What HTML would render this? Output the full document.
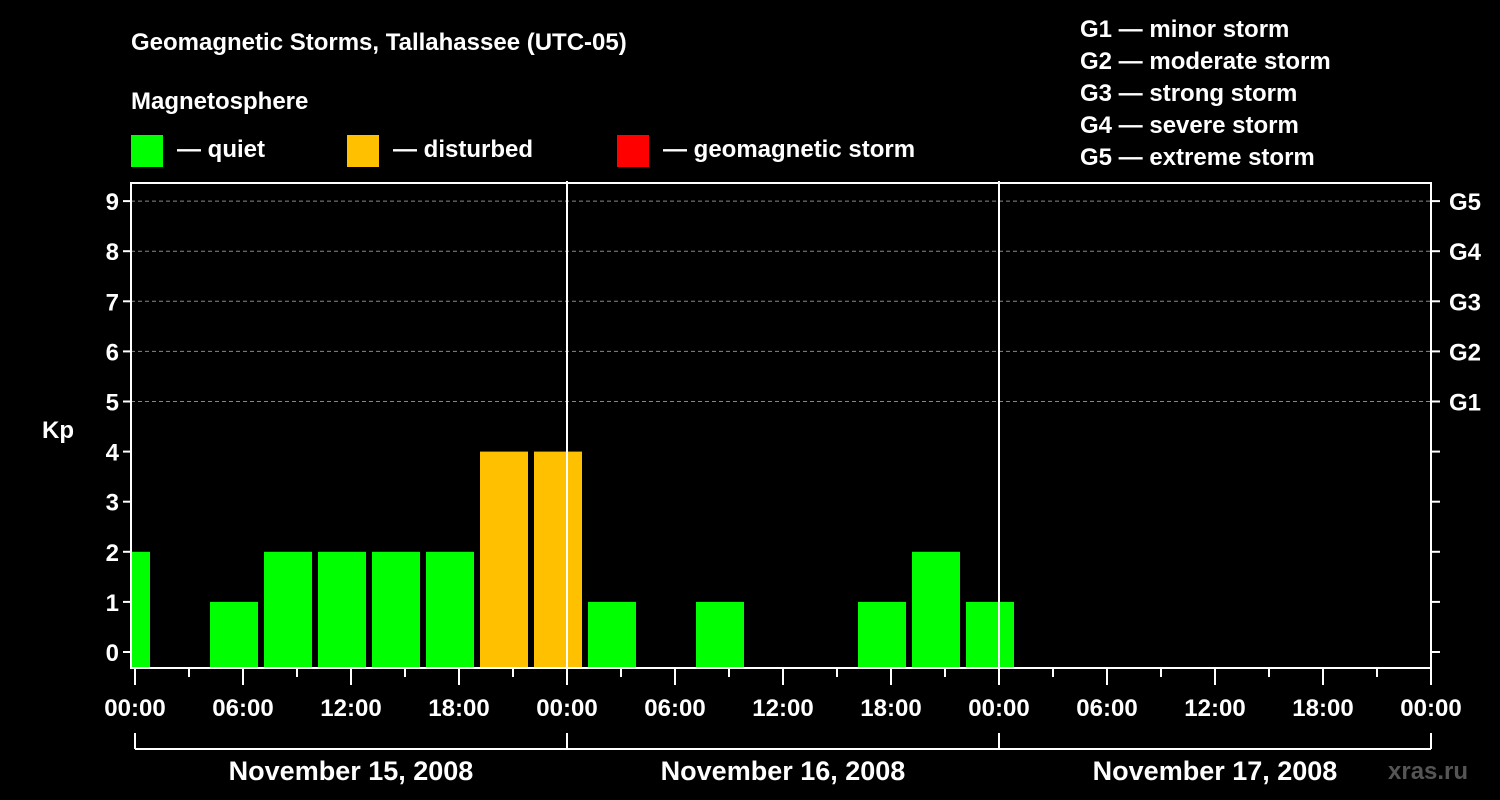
<!DOCTYPE html>
<html><head><meta charset="utf-8"><style>
html,body{margin:0;padding:0;background:#000;}
svg{display:block;font-family:"Liberation Sans",sans-serif;font-weight:bold;}
</style></head><body>
<svg width="1500" height="800" viewBox="0 0 1500 800">
<text x="131" y="50" fill="#fff" font-size="24">Geomagnetic Storms, Tallahassee (UTC-05)</text>
<text x="131" y="109" fill="#fff" font-size="24">Magnetosphere</text>
<g><rect x="131" y="135" width="32" height="32" fill="#00ff00"/><text x="177" y="157" fill="#fff" font-size="24">— quiet</text></g>
<g><rect x="347" y="135" width="32" height="32" fill="#ffc000"/><text x="393" y="157" fill="#fff" font-size="24">— disturbed</text></g>
<g><rect x="617" y="135" width="32" height="32" fill="#ff0000"/><text x="663" y="157" fill="#fff" font-size="24">— geomagnetic storm</text></g>
<g fill="#fff" font-size="24">
<text x="1080" y="37">G1 — minor storm</text><text x="1080" y="69">G2 — moderate storm</text><text x="1080" y="101">G3 — strong storm</text><text x="1080" y="133">G4 — severe storm</text><text x="1080" y="165">G5 — extreme storm</text>
</g>
<text x="42" y="438" fill="#fff" font-size="24">Kp</text>
<text x="1388" y="779" fill="#555" font-size="24">xras.ru</text>
<g id="plot"></g>
</svg>
<script>
const hours=[-0.5,2.5,5.5,8.5,11.5,14.5,17.5,20.5,23.5,26.5,29.5,32.5,35.5,38.5,41.5,44.5,47.5];
const kp=[2,0,1,2,2,2,2,4,4,1,0,1,0,0,1,2,1];
const yTicks=[0,1,2,3,4,5,6,7,8,9];
const gLabels=["G1","G2","G3","G4","G5"];
const xLabels=["00:00","06:00","12:00","18:00","00:00","06:00","12:00","18:00","00:00","06:00","12:00","18:00","00:00"];
const days=["November 15, 2008","November 16, 2008","November 17, 2008"];
const NS="http://www.w3.org/2000/svg";
const L=131,R=1431,T=183,B=668,X0=135,PXH=18;
const xs=h=>X0+h*PXH, ys=v=>652-v*50.1;
const g=document.getElementById('plot');
function mk(t,a,p){const e=document.createElementNS(NS,t);for(const k in a)e.setAttribute(k,a[k]);(p||g).appendChild(e);return e;}
// grid
yTicks.forEach(v=>{
 if(v>=5){const l=mk('line',{x1:L,x2:R,y1:ys(v),y2:ys(v),stroke:'#888','stroke-dasharray':'4,3','stroke-width':1});
 
 }
 const t=mk('line',{x1:L-8,x2:L,y1:ys(v),y2:ys(v),stroke:'#fff','stroke-width':2});
 
 
 const t2=mk('line',{x1:R,x2:R+9,y1:ys(v),y2:ys(v),stroke:'#fff','stroke-width':2});
 
 
 const tx=mk('text',{x:L-12,y:ys(v)+9,fill:'#fff','font-size':24,'text-anchor':'end'});tx.textContent=v;
 
 
 if(v>=5){const gt=mk('text',{x:R+18,y:ys(v)+9,fill:'#fff','font-size':24});gt.textContent=gLabels[v-5];
 
 }
});
// bars
hours.forEach((h,i)=>{
 if(kp[i]<=0)return;
 let x1=Math.max(xs(h-1.5)+3,L+1),x2=Math.min(xs(h+1.5)-3,R);
 const c=kp[i]>=5?'#ff0000':kp[i]>=4?'#ffc000':'#00ff00';
 const r=mk('rect',{x:x1,y:ys(kp[i]),width:x2-x1,height:B-ys(kp[i]),fill:c});
 
 
});
// day separators
[24,48].forEach(h=>{const l=mk('line',{x1:xs(h),x2:xs(h),y1:T-2,y2:B,stroke:'#fff','stroke-width':2});
 
 });
// frame
const f=mk('rect',{x:L,y:T,width:R-L,height:B-T,fill:'none',stroke:'#fff','stroke-width':2});


// x ticks
for(let h=0;h<=72;h+=3){const maj=h%6===0;
 const l=mk('line',{x1:xs(h),x2:xs(h),y1:B,y2:maj?685:677,stroke:'#fff','stroke-width':2});
 
 }
xLabels.forEach((s,i)=>{const t=mk('text',{x:xs(i*6),y:716,fill:'#fff','font-size':24,'text-anchor':'middle'});t.textContent=s;
 
 });
// day bracket
const bl=mk('line',{x1:xs(0),x2:xs(72),y1:749,y2:749,stroke:'#fff','stroke-width':2});


[0,24,48,72].forEach(h=>{const l=mk('line',{x1:xs(h),x2:xs(h),y1:733,y2:749,stroke:'#fff','stroke-width':2});
 
 });
days.forEach((d,i)=>{const t=mk('text',{x:xs(i*24+12),y:780,fill:'#fff','font-size':27,'text-anchor':'middle'});t.textContent=d;
 
 });
</script>
</body></html>
